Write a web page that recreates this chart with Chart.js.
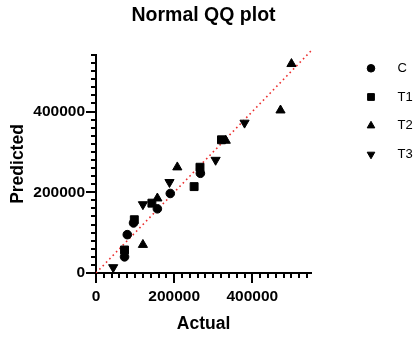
<!DOCTYPE html>
<html>
<head>
<meta charset="utf-8">
<script src="https://cdn.jsdelivr.net/npm/chart.js@4"></script>
<style>
  html, body { margin: 0; padding: 0; background: #fff; }
  #wrap { width: 417px; height: 337px; }
</style>
</head>
<body>
<div id="wrap"><canvas id="c" width="417" height="337"></canvas></div>
<script>
// ---- data ----
const seriesNames = ['C', 'T1', 'T2', 'T3'];
const actualC  = [73000, 80000, 96000, 157000, 190000, 267000];
const predC    = [40000, 95000, 124000, 159000, 197000, 247000];
const actualT1 = [73000, 98000, 143000, 251000, 266000, 321000];
const predT1   = [57000, 132000, 173000, 214000, 262000, 330000];
const actualT2 = [120000, 157000, 208000, 332000, 472000, 500000];
const predT2   = [70000, 185000, 262000, 328000, 403000, 518000];
const actualT3 = [44000, 120000, 188000, 306000, 380000];
const predT3   = [14000, 170000, 225000, 280000, 372000];
const refLine  = [0, 550000];
const xTicks   = [0, 200000, 400000];
const yTicks   = [0, 200000, 400000];
const minorStep = 20000;
const axisMaxX = 550000;
const axisMaxY = 540000;

const pts = (xs, ys) => xs.map((x, i) => ({ x: x, y: ys[i] }));

Chart.defaults.font.family = "'Liberation Sans', Arial, sans-serif";
Chart.defaults.color = '#000';

const markerDefs = [
  { style: 'circle',   rot: 0,   r: 4.3, lr: 3.8 },
  { style: 'rect',     rot: 0,   r: 5.6, lr: 4.8 },
  { style: 'triangle', rot: 0,   r: 5.3, lr: 4.4 },
  { style: 'triangle', rot: 180, r: 5.3, lr: 4.4 }
];
const seriesData = [pts(actualC, predC), pts(actualT1, predT1), pts(actualT2, predT2), pts(actualT3, predT3)];

const datasets = seriesNames.map((name, i) => ({
  label: name,
  data: seriesData[i],
  pointStyle: markerDefs[i].style,
  pointRotation: markerDefs[i].rot,
  pointRadius: markerDefs[i].r,
  pointHoverRadius: markerDefs[i].r,
  pointBackgroundColor: '#000',
  pointBorderColor: '#000',
  pointBorderWidth: 1,
  showLine: false,
  legendRadius: markerDefs[i].lr
}));
datasets.unshift({
  label: 'ref',
  type: 'line',
  data: pts(refLine, refLine),
  borderColor: 'rgb(235,45,45)',
  borderWidth: 1.6,
  borderDash: [1.6, 3.2],
  pointRadius: 0,
  fill: false,
  clip: false,
  order: 10
});

// minor/major tick marks drawn through the scales
const tickPlugin = {
  id: 'prismTicks',
  afterDraw(chart) {
    const ctx = chart.ctx, a = chart.chartArea;
    const xs = chart.scales.x, ys = chart.scales.y;
    ctx.save();
    ctx.strokeStyle = '#000';
    ctx.lineWidth = 2;
    ctx.beginPath();
    for (let v = 0; v <= axisMaxY; v += minorStep) {
      const p = Math.round(ys.getPixelForValue(v));
      const len = yTicks.includes(v) ? 10 : 5;
      ctx.moveTo(a.left - len, p);
      ctx.lineTo(a.left, p);
    }
    for (let v = 0; v <= axisMaxX; v += minorStep) {
      const p = Math.round(xs.getPixelForValue(v));
      const len = xTicks.includes(v) ? 10 : 5;
      ctx.moveTo(p, a.bottom);
      ctx.lineTo(p, a.bottom + len);
    }
    ctx.stroke();
    ctx.restore();
  }
};

// legend on the right, using each dataset's own point style
const legendPlugin = {
  id: 'sideLegend',
  afterDraw(chart) {
    const ctx = chart.ctx, a = chart.chartArea;
    const mx = a.right + 60;
    let my = a.top + 13.3;
    ctx.save();
    chart.data.datasets.forEach(ds => {
      if (ds.label === 'ref') return;
      ctx.fillStyle = '#000';
      ctx.strokeStyle = '#000';
      ctx.lineWidth = 1;
      const opts = { pointStyle: ds.pointStyle, rotation: ds.pointRotation || 0, radius: ds.legendRadius, borderWidth: 1 };
      if (Chart.helpers && Chart.helpers.drawPoint) {
        Chart.helpers.drawPoint(ctx, opts, mx, my);
      }
      ctx.font = "13px 'Liberation Sans', Arial, sans-serif";
      ctx.textBaseline = 'middle';
      ctx.textAlign = 'left';
      ctx.fillText(ds.label, mx + 26.5, my);
      my += 28.7;
    });
    ctx.restore();
  }
};

new Chart(document.getElementById('c'), {
  type: 'scatter',
  data: { datasets: datasets },
  plugins: [tickPlugin, legendPlugin],
  options: {
    responsive: false,
    animation: false,
    layout: { padding: { left: 0, right: 10, top: 0, bottom: 0 } },
    plugins: {
      legend: { display: false },
      tooltip: { enabled: false },
      title: {
        display: true,
        text: 'Normal QQ plot',
        color: '#000',
        font: { size: 19.5, weight: 'bold' },
        padding: { top: 4.3, bottom: 27.3 }
      }
    },
    scales: {
      x: {
        type: 'linear',
        min: 0,
        max: axisMaxX,
        afterBuildTicks(s) { s.ticks = xTicks.map(v => ({ value: v })); },
        grid: { display: false, drawTicks: false },
        border: { display: true, color: '#000', width: 2 },
        ticks: {
          autoSkip: false,
          padding: 14.4,
          color: '#000',
          font: { size: 15.5, weight: 'bold' },
          maxRotation: 0,
          callback: v => String(v)
        },
        title: {
          display: true,
          text: 'Actual',
          color: '#000',
          font: { size: 17.5, weight: 'bold' },
          padding: { top: 0, bottom: 2.5 }
        },
        afterFit(s) { s.height = 64; }
      },
      y: {
        type: 'linear',
        min: 0,
        max: axisMaxY,
        afterBuildTicks(s) { s.ticks = yTicks.map(v => ({ value: v })); },
        grid: { display: false, drawTicks: false },
        border: { display: true, color: '#000', width: 2 },
        ticks: {
          autoSkip: false,
          padding: 11,
          color: '#000',
          font: { size: 15.5, weight: 'bold' },
          callback: v => String(v)
        },
        title: {
          display: true,
          text: 'Predicted',
          color: '#000',
          font: { size: 17.5, weight: 'bold' },
          padding: { top: 8, bottom: 0 }
        },
        afterFit(s) { s.width = 96; }
      },
      spacer: {
        type: 'linear',
        position: 'right',
        display: true,
        grid: { display: false, drawTicks: false },
        border: { display: false },
        ticks: { display: false },
        afterFit(s) { s.width = 96; }
      }
    }
  }
});
</script>
</body>
</html>
